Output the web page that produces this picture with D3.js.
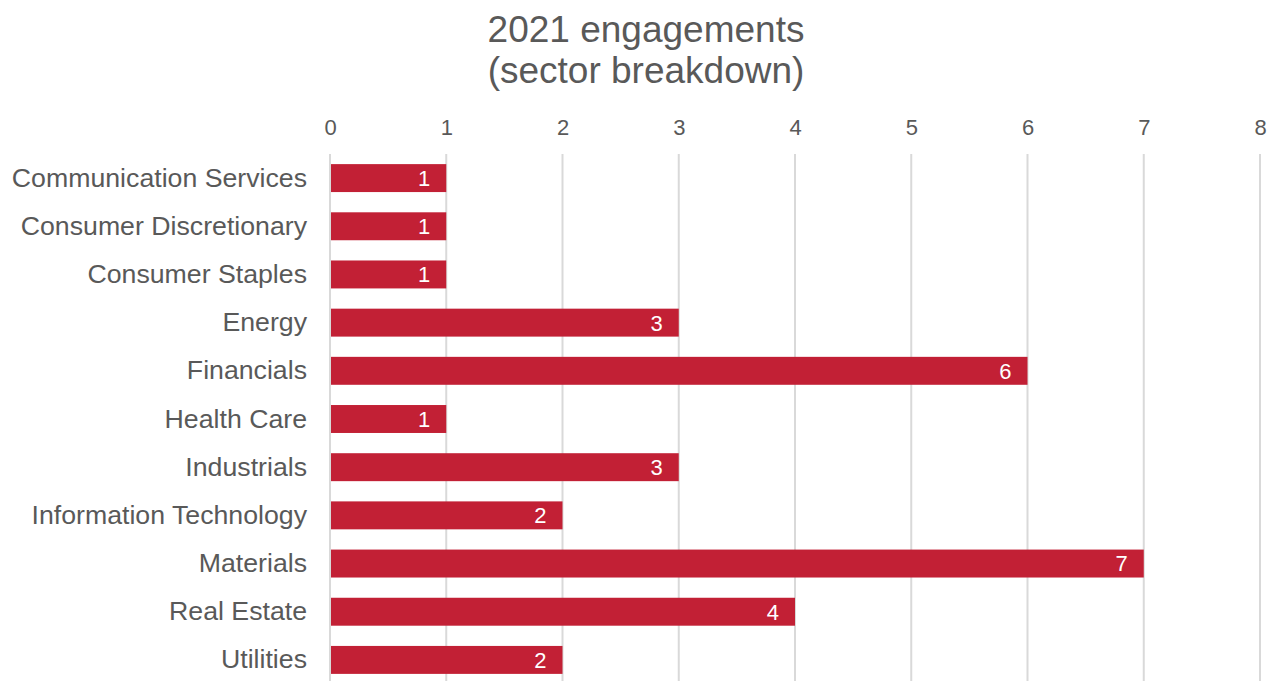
<!DOCTYPE html>
<html><head><meta charset="utf-8">
<script src="https://cdn.jsdelivr.net/npm/d3@7"></script>
<style>body{margin:0;background:#fff;} text{font-family:"Liberation Sans",Arial,sans-serif;}</style>
</head><body>
<svg id="c" width="1273" height="681"></svg>
<script>
const categories = ["Communication Services","Consumer Discretionary","Consumer Staples","Energy","Financials","Health Care","Industrials","Information Technology","Materials","Real Estate","Utilities"];
const values = [1,1,1,3,6,1,3,2,7,4,2];
const tickValues = [0,1,2,3,4,5,6,7,8];
const titleLines = ["2021 engagements","(sector breakdown)"];

const FONT = "'Liberation Sans', Arial, sans-serif";
const svg = d3.select("#c");
const x = d3.scaleLinear().domain([0,8]).range([330,1260]);
const y = d3.scaleBand().domain(categories).range([154,684]).paddingInner(0.42).paddingOuter(0.21);

// gridlines
svg.append("g").selectAll("line").data(tickValues).join("line")
  .attr("x1",d=>x(d)).attr("x2",d=>x(d)).attr("y1",154).attr("y2",681)
  .attr("stroke","#d9d9d9").attr("stroke-width",2);

// top axis labels
const ax = svg.append("g").attr("transform","translate(0,135)")
  .call(d3.axisTop(x).tickValues(tickValues).tickSize(0).tickPadding(0).tickFormat(d3.format("d")));
ax.select(".domain").remove();
ax.selectAll("text").attr("font-size",22).attr("fill","#595959").attr("font-family",FONT).attr("dy",0);

// category labels
const ay = svg.append("g").attr("transform","translate(307,0)")
  .call(d3.axisLeft(y).tickSize(0).tickPadding(0));
ay.select(".domain").remove();
ay.selectAll("text").attr("font-size",26.7).attr("fill","#595959").attr("font-family",FONT);

// bars
svg.append("g").selectAll("rect").data(categories).join("rect")
  .attr("x",x(0)+1).attr("y",d=>y(d)).attr("height",y.bandwidth())
  .attr("width",(d,i)=>x(values[i])-x(0)-1).attr("fill","#c22035");

// value labels
svg.append("g").selectAll("text").data(categories).join("text")
  .attr("x",(d,i)=>x(values[i])-16).attr("y",d=>y(d)+y.bandwidth()/2)
  .attr("dy","0.36em").attr("text-anchor","end").attr("font-size",22).attr("fill","#fff")
  .attr("font-family",FONT)
  .text((d,i)=>values[i]);

// title
svg.append("g").selectAll("text").data(titleLines).join("text")
  .attr("x",646).attr("y",(d,i)=>42+i*41).attr("text-anchor","middle")
  .attr("font-size",37).attr("fill","#595959").attr("font-family",FONT).text(d=>d);
</script>
</body></html>
